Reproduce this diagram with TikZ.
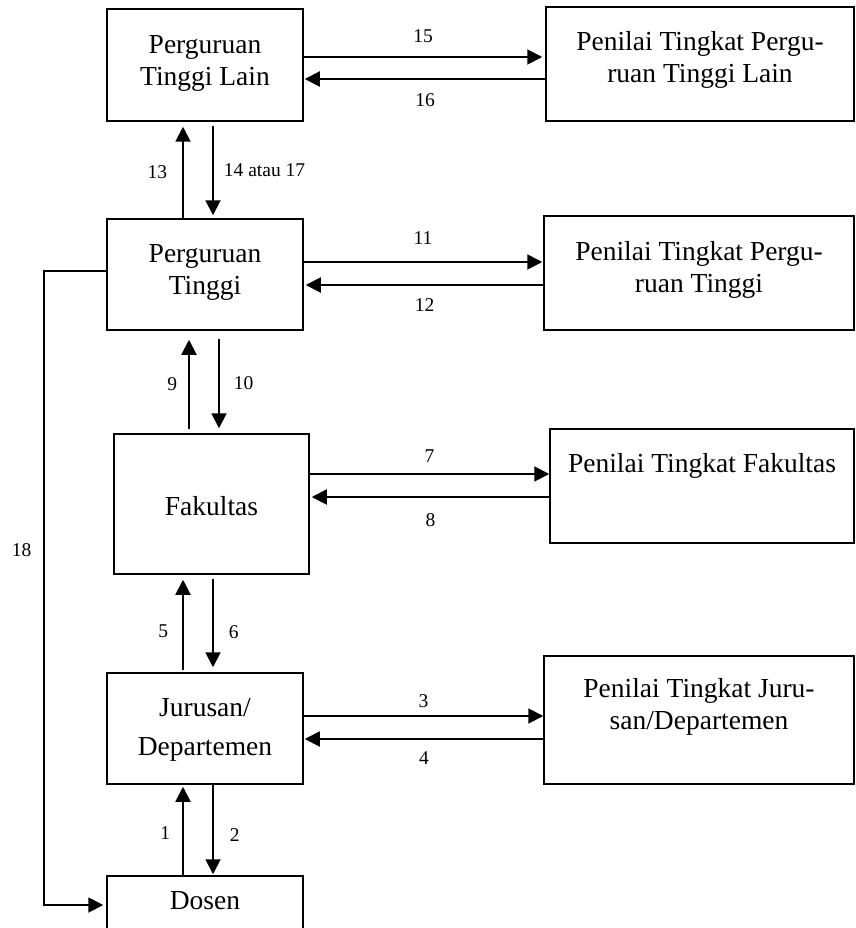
\documentclass[tikz,border=0pt]{standalone}
\usepackage{fontspec}
\setmainfont{Liberation Serif}
\usetikzlibrary{arrows.meta,calc}

\tikzset{
  box/.style={rectangle,draw,line width=1.5pt,inner sep=0pt},
  txt/.style={anchor=center,align=center,inner sep=0pt,font=\fontsize{27.5}{32}\selectfont},
  arr/.style={-{Triangle[length=15pt,width=15pt]},line width=1.9pt},
  num/.style={inner sep=0pt,font=\fontsize{19.5}{23}\selectfont},
}

\begin{document}
\begin{tikzpicture}[x=1pt,y=-1pt]
\useasboundingbox (0,0) rectangle (855,928);
\clip (0,0) rectangle (855,928);

% left column
\node (ptl) at (205,65) [box,minimum width=196pt,minimum height=112pt,label={[txt,yshift=2pt]center:Perguruan\\Tinggi Lain}]{};
\node (pt) at (205,274.5) [box,minimum width=196pt,minimum height=111pt,label={[txt,yshift=2pt]center:Perguruan\\Tinggi}]{};
\node (fak) at (211.5,504) [box,minimum width=195pt,minimum height=140pt,label={[txt,yshift=-2pt]center:Fakultas}]{};
\node (jur) at (205,728.5) [box,minimum width=196pt,minimum height=111pt,label={[txt,yshift=-1pt]center:Jurusan/\\[7pt]Departemen}]{};
\node (dos) at (205,908) [box,minimum width=196pt,minimum height=64pt,label={[txt,yshift=7pt]center:Dosen}]{};

% right column
\node (pptl) at (700,64) [box,minimum width=308pt,minimum height=114pt,label={[txt,yshift=4pt]center:Penilai Tingkat Pergu-\\ruan Tinggi Lain}]{};
\node (ppt) at (699,273) [box,minimum width=310pt,minimum height=114pt,label={[txt,yshift=3.5pt]center:Penilai Tingkat Pergu-\\ruan Tinggi}]{};
\node (pfak) at (702,486) [box,minimum width=304pt,minimum height=114pt,label={[txt,yshift=20pt]center:Penilai Tingkat Fakultas}]{};
\node (pjur) at (699,720) [box,minimum width=310pt,minimum height=128pt,label={[txt,yshift=13pt]center:Penilai Tingkat Juru-\\san/Departemen}]{};

%----------------------------------------------------
\draw[arr] ([xshift=-22pt]pt.north) -- node[num,midway,left=15pt]{13} ([xshift=-22pt,yshift=-5pt]pt.north |- ptl.south);
\draw[arr] ([xshift=8pt,yshift=-4pt]pt.north |- ptl.south) -- node[num,midway,right=10pt]{14 atau 17} ([xshift=8pt,yshift=3pt]pt.north);

\draw[arr] ([xshift=-22.5pt,yshift=4pt]fak.north) -- node[num,midway,left=11pt]{9} ([xshift=-22.5pt,yshift=-9pt]fak.north |- pt.south);
\draw[arr] ([xshift=7.5pt,yshift=-8pt]fak.north |- pt.south) -- node[num,midway,right=14pt]{10} ([xshift=7.5pt,yshift=5pt]fak.north);

\draw[arr] ([xshift=-22pt,yshift=2pt]jur.north) -- node[num,pos=.43,left=14pt]{5} ([xshift=-22pt,yshift=-5pt]jur.north |- fak.south);
\draw[arr] ([xshift=8pt,yshift=-4pt]jur.north |- fak.south) -- node[num,pos=.6,right=15pt]{6} ([xshift=8pt,yshift=5pt]jur.north);

\draw[arr] ([xshift=-22pt]dos.north) -- node[num,pos=.48,left=12pt]{1} ([xshift=-22pt,yshift=-2pt]dos.north |- jur.south);
\draw[arr] ([xshift=8pt]dos.north |- jur.south) -- node[num,pos=.56,right=16pt]{2} ([xshift=8pt,yshift=1pt]dos.north);

%----------------------------------------------------
\draw[arr] ([yshift=8pt]ptl.east) -- node[num,midway,above=13pt]{15} ([yshift=8pt,xshift=-3pt]ptl.east -| pptl.west);
\draw[arr] ([yshift=-14pt]ptl.east -| pptl.west) -- node[num,midway,below=14pt]{16} ([yshift=-14pt,xshift=1pt]ptl.east);

\draw[arr] ([yshift=12.5pt]pt.east) -- node[num,midway,above=17pt]{11} ([yshift=12.5pt,xshift=-1pt]pt.east -| ppt.west);
\draw[arr] ([yshift=-10.5pt]pt.east -| ppt.west) -- node[num,midway,below=13pt]{12} ([yshift=-10.5pt,xshift=2pt]pt.east);

\draw[arr] ([yshift=30pt]fak.east) -- node[num,midway,above=11pt]{7} ([yshift=30pt]fak.east -| pfak.west);
\draw[arr] ([yshift=7pt]fak.east -| pfak.west) -- node[num,midway,below=16pt]{8} ([yshift=7pt,xshift=2pt]fak.east);

\draw[arr] ([yshift=12.5pt]jur.east) -- node[num,midway,above=7pt]{3} ([yshift=12.5pt]jur.east -| pjur.west);
\draw[arr] ([yshift=-10.5pt]jur.east -| pjur.west) -- node[num,midway,below=12pt]{4} ([yshift=-10.5pt,xshift=1pt]jur.east);

%----------------------------------------------------
\draw[arr] ([yshift=3.5pt]pt.west) -- ++(-62,0) |- node[num,pos=.22,left=12pt]{18} ([yshift=3pt,xshift=-3pt]dos.west);

\end{tikzpicture}
\end{document}
